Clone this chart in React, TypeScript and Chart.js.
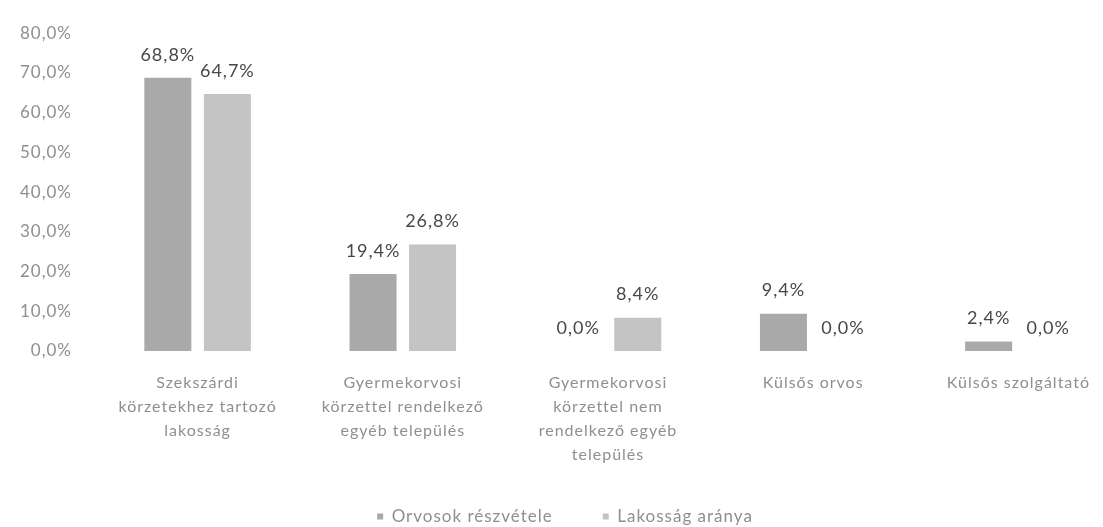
import React, { useEffect, useRef } from "react";
import { Chart, registerables } from "chart.js";

Chart.register(...registerables);

const categories: string[][] = [
  ["Szekszárdi", "körzetekhez tartozó", "lakosság"],
  ["Gyermekorvosi", "körzettel rendelkező", "egyéb település"],
  ["Gyermekorvosi", "körzettel nem", "rendelkező egyéb", "település"],
  ["Külsős orvos"],
  ["Külsős szolgáltató"],
];
const seriesNames = ["Orvosok részvétele", "Lakosság aránya"];
const orvosok = [68.8, 19.4, 0.0, 9.4, 2.4];
const lakossag = [64.7, 26.8, 8.4, 0.0, 0.0];
const yTicks = [0, 10, 20, 30, 40, 50, 60, 70, 80];

const FONT = "Lato, 'Open Sans', sans-serif";
const fmt = (v: number) => v.toFixed(1).replace(".", ",") + "%";

const spacing = {
  id: "spacing",
  beforeLayout(chart: any) {
    chart.ctx.letterSpacing = "1px";
  },
  afterLayout(chart: any) {
    // let tick labels use the free space around the axes instead of being clipped
    chart.scales.y.left = 0;
    chart.scales.x.bottom = chart.height + 40;
  },
  beforeDraw(chart: any) {
    chart.ctx.letterSpacing = "1px";
  },
};

const valueLabels = {
  id: "valueLabels",
  afterDatasetsDraw(chart: any) {
    const ctx = chart.ctx;
    ctx.save();
    ctx.letterSpacing = "1px";
    ctx.font = `18px ${FONT}`;
    ctx.fillStyle = "#484848";
    ctx.textAlign = "center";
    ctx.textBaseline = "bottom";
    chart.data.datasets.forEach((ds: any, di: number) => {
      const meta = chart.getDatasetMeta(di);
      meta.data.forEach((el: any, i: number) => {
        ctx.fillText(fmt(ds.data[i]), el.x, el.y - 14);
      });
    });
    ctx.restore();
  },
};

export default function App() {
  const ref = useRef<HTMLCanvasElement>(null);
  useEffect(() => {
    document.body.style.margin = "0";
    document.body.style.overflow = "hidden";
    const chart = new Chart(ref.current!, {
      type: "bar",
      data: {
        labels: categories,
        datasets: [
          {
            label: seriesNames[0],
            data: orvosok,
            backgroundColor: "#a9a9a9",
            categoryPercentage: 0.58,
            barPercentage: 0.79,
          },
          {
            label: seriesNames[1],
            data: lakossag,
            backgroundColor: "#c4c4c4",
            categoryPercentage: 0.58,
            barPercentage: 0.79,
          },
        ],
      },
      options: {
        animation: false,
        responsive: false,
        maintainAspectRatio: false,
        layout: { padding: { left: 9, right: 2, top: 21, bottom: -8 } },
        scales: {
          x: {
            grid: { display: false, drawTicks: false },
            border: { display: false },
            ticks: {
              color: "#8f8f8f",
              font: { family: FONT, size: 16, lineHeight: 1.5 },
              padding: 20,
              maxRotation: 0,
              autoSkip: false,
            },
            afterFit: (s: any) => {
              s.height = 107;
            },
          },
          y: {
            min: 0,
            max: 80,
            grid: { display: false, drawTicks: false },
            border: { display: false },
            afterBuildTicks: (s: any) => {
              s.ticks = yTicks.map((v) => ({ value: v }));
            },
            ticks: {
              color: "#8f8f8f",
              font: { family: FONT, size: 17 },
              padding: 23,
              callback: (v: any) => fmt(Number(v)),
            },
            afterFit: (s: any) => {
              s.width = 86;
            },
          },
        },
        plugins: {
          legend: {
            position: "bottom",
            labels: {
              color: "#8f8f8f",
              font: { family: FONT, size: 17 },
              boxWidth: 6,
              boxHeight: 6,
              padding: 50,
            },
          },
          tooltip: { enabled: false },
        },
      },
      plugins: [spacing, valueLabels],
    });
    return () => chart.destroy();
  }, []);
  return (
    <div style={{ width: 1103, height: 527, overflow: "hidden" }}>
      <canvas ref={ref} width={1123} height={527} style={{ display: "block", width: 1123, height: 527 }} />
    </div>
  );
}
